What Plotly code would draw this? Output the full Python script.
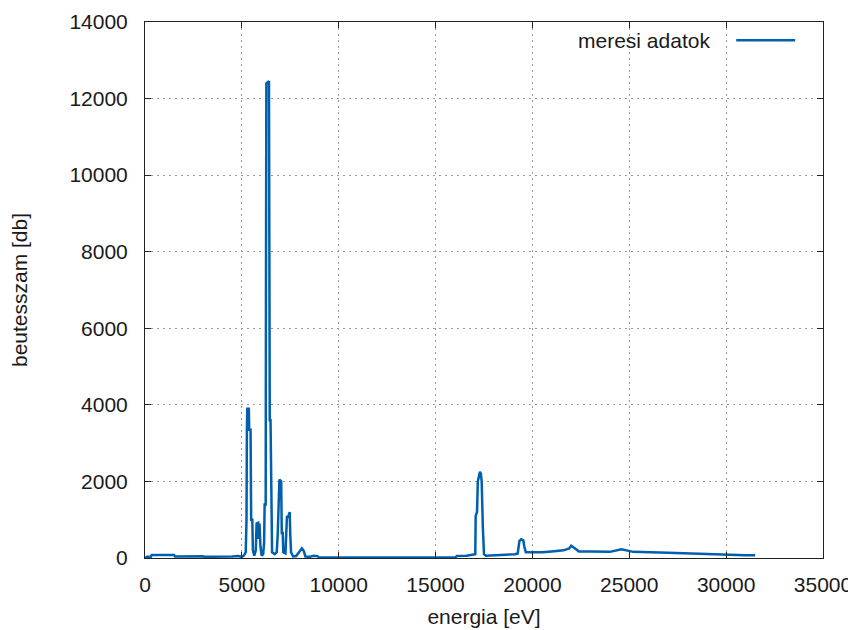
import plotly.graph_objects as go

energy = [0, 100, 300, 350, 1500, 1550, 3000, 3050, 4500, 4800, 5000, 5100, 5200, 5240, 5260, 5280,
          5360, 5380, 5450, 5480, 5540, 5570, 5640, 5720, 5760, 5840, 5870, 5910, 5960, 6020, 6100,
          6150, 6175, 6230, 6245, 6265, 6400, 6440, 6480, 6520, 6560, 6700, 6800, 6850, 6900, 6940,
          7030, 7060, 7110, 7140, 7250, 7300, 7330, 7380, 7420, 7470, 7500, 7540, 7650, 7800, 7950,
          8100, 8200, 8280, 8500, 8700, 8900, 9000, 16000, 16100, 16600, 16900, 17050, 17070, 17140,
          17180, 17290, 17340, 17380, 17440, 17500, 17600, 18500, 19100, 19240, 19290, 19330, 19420,
          19530, 19580, 19660, 19800, 20500, 21000, 21600, 21900, 22000, 22200, 22400, 23000, 24000,
          24600, 24800, 25200, 27000, 28500, 30000, 31000, 31500]
counts = [0, 30, 30, 80, 80, 40, 45, 30, 40, 50, 30, 60, 150, 1000, 3300, 3900,
          3900, 3350, 3350, 1000, 1000, 200, 60, 200, 900, 920, 500, 900, 300, 60, 100,
          400, 1400, 1400, 7050, 12400, 12450, 3600, 3600, 1000, 150, 100, 150, 600, 1900, 2050,
          2000, 650, 650, 150, 120, 600, 1100, 1050, 1150, 1200, 600, 150, 40, 50, 150,
          250, 180, 40, 30, 60, 50, 10, 10, 50, 60, 80, 100, 1100, 1200,
          2000, 2250, 2200, 2000, 800, 100, 60, 80, 100, 120, 250, 450, 490,
          460, 300, 150, 150, 150, 170, 200, 250, 320, 250, 170, 170, 160,
          230, 200, 160, 140, 110, 90, 70, 70]

x_ticks = [0, 5000, 10000, 15000, 20000, 25000, 30000, 35000]
y_ticks = [0, 2000, 4000, 6000, 8000, 10000, 12000, 14000]

FONT = "Liberation Sans, Arial, sans-serif"
SIZE = 21
TXT = "#1a1a1a"
COLOR = "#0060ad"

fig = go.Figure()
fig.add_trace(go.Scatter(x=energy, y=counts, mode="lines", name="meresi adatok",
                         line=dict(color=COLOR, width=2.5), showlegend=False))

axis_common = dict(showline=True, linecolor="#222222", linewidth=1, mirror="allticks",
                   ticks="inside", ticklen=6, tickcolor="#222222", automargin=False,
                   showgrid=True, gridcolor="#9a9a9a", griddash="2px,4px", gridwidth=1,
                   zeroline=False, tickfont=dict(family=FONT, size=SIZE, color=TXT))

fig.update_xaxes(range=[0, 35000], tickvals=x_ticks, ticktext=[str(v) for v in x_ticks],
                 ticklabelstandoff=8,
                 title=dict(text="energia [eV]", font=dict(family=FONT, size=SIZE, color=TXT), standoff=14),
                 **axis_common)
fig.update_yaxes(range=[0, 14000], tickvals=y_ticks, ticktext=[str(v) for v in y_ticks],
                 ticklabelstandoff=12,
                 title=dict(text="beutesszam [db]", font=dict(family=FONT, size=SIZE, color=TXT), standoff=38),
                 **axis_common)

fig.add_annotation(x=0.836, y=0.966, xref="paper", yref="paper", text="meresi adatok",
                   showarrow=False, xanchor="right", yanchor="middle",
                   font=dict(family=FONT, size=SIZE, color=TXT))
fig.add_shape(type="line", xref="paper", yref="paper", x0=0.872, x1=0.959, y0=0.966, y1=0.966,
              line=dict(color=COLOR, width=2.5))

fig.update_layout(width=856, height=630, margin=dict(l=137, r=41, t=14, b=80),
                  paper_bgcolor="white", plot_bgcolor="white")

fig.write_html("out.html")
